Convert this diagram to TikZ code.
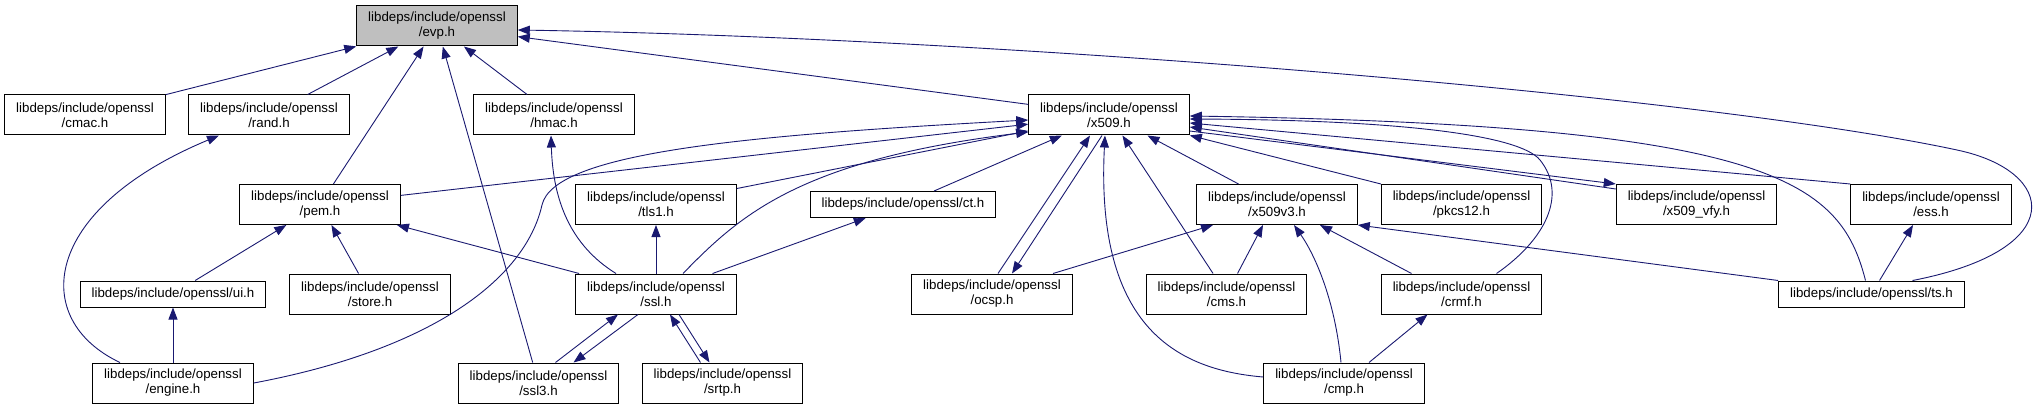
\documentclass[tikz,border=0pt]{standalone}
\usepackage{fontspec}
\setmainfont{Liberation Sans}
\usetikzlibrary{arrows.meta}
\definecolor{edgeblue}{HTML}{191970}
\definecolor{rootgray}{HTML}{BFBFBF}
\begin{document}
\begin{tikzpicture}[x=1pt, y=-1pt, font=\fontsize{13.3}{15}\selectfont,
    hdr/.style={rectangle, draw=black, line width=1pt, fill=white, align=center, inner xsep=11.5pt, minimum width=160pt, minimum height=40pt},
    hdrone/.style={hdr, minimum width=0pt, minimum height=26pt},
    root/.style={hdr, fill=rootgray},
    dep/.style={draw=edgeblue, line width=0.9pt, -{Triangle[length=12pt, width=9pt]}}]
  \useasboundingbox (0,0) rectangle (2038,409);
  % include graph of evp.h, one row per rank
  \node[root] (evp) at (437,26) {libdeps/include/openssl\\/evp.h};

  \node[hdr] (cmac) at (85,115)   {libdeps/include/openssl\\/cmac.h};
  \node[hdr] (rand) at (269,115)  {libdeps/include/openssl\\/rand.h};
  \node[hdr] (hmac) at (554,115)  {libdeps/include/openssl\\/hmac.h};
  \node[hdr] (x509) at (1109,115) {libdeps/include/openssl\\/x509.h};

  \node[hdr] (pem) at (320,204.5)       {libdeps/include/openssl\\/pem.h};
  \node[hdr] (tls1) at (656,204.5)      {libdeps/include/openssl\\/tls1.h};
  \node[hdrone] (ct) at (903,204.5)     {libdeps/include/openssl/ct.h};
  \node[hdr] (x509v3) at (1277,204.5)   {libdeps/include/openssl\\/x509v3.h};
  \node[hdr] (pkcs12) at (1461.5,204.5) {libdeps/include/openssl\\/pkcs12.h};
  \node[hdr] (x509vfy) at (1696.5,204.5){libdeps/include/openssl\\/x509\_vfy.h};
  \node[hdr] (ess) at (1931,204.5)      {libdeps/include/openssl\\/ess.h};

  \node[hdrone] (ui) at (173,294)   {libdeps/include/openssl/ui.h};
  \node[hdr] (store) at (370,294)   {libdeps/include/openssl\\/store.h};
  \node[hdr] (ssl) at (656,294)     {libdeps/include/openssl\\/ssl.h};
  \node[hdr] (ocsp) at (992,294)    {libdeps/include/openssl\\/ocsp.h};
  \node[hdr] (cms) at (1226.5,294)  {libdeps/include/openssl\\/cms.h};
  \node[hdr] (crmf) at (1461.5,294) {libdeps/include/openssl\\/crmf.h};
  \node[hdrone] (ts) at (1871.5,294){libdeps/include/openssl/ts.h};

  \node[hdr] (engine) at (173,383) {libdeps/include/openssl\\/engine.h};
  \node[hdr] (ssl3) at (538.5,383) {libdeps/include/openssl\\/ssl3.h};
  \node[hdr] (srtp) at (722.5,383) {libdeps/include/openssl\\/srtp.h};
  \node[hdr] (cmp) at (1344,383)   {libdeps/include/openssl\\/cmp.h};

  \draw[dep] (cmac)--(evp); \draw[dep] (rand)--(evp); \draw[dep] (pem)--(evp);
  \draw[dep] (hmac)--(evp); \draw[dep] (ssl3)--(evp); \draw[dep] (x509)--(evp);
  \draw[dep] ([xshift=41pt]ts.north) .. controls (2070,250) and (2057,171) .. (1957,150)
    .. controls (1700,95) and (1000,38) .. ([yshift=-4pt]evp.east);

  \draw[dep] (pem)--(x509); \draw[dep] (tls1)--(x509);
  \draw[dep] (engine.east) .. controls (430,350) and (525,280) .. (542,205)
    .. controls (554,152) and (750,135) .. ([yshift=-5pt]x509.west);
  \draw[dep] ([xshift=27pt]ssl.north) .. controls (740,215) and (800,160) .. ([yshift=-17pt]x509.west);
  \draw[dep] (ct)--(x509); \draw[dep] (cms)--(x509); \draw[dep] (x509v3)--(x509);
  \draw[dep] (pkcs12)--(x509);
  \draw[dep] ([xshift=6pt]ocsp.north)--([xshift=-19pt]x509.south);
  \draw[dep] ([xshift=-7pt]x509.south)--([xshift=20pt]ocsp.north);
  \draw[dep] ([yshift=6pt]cmp.west) .. controls (1180,370) and (1095,330) .. ([xshift=-4pt]x509.south);
  \draw[dep] ([xshift=-6pt]ts.north) .. controls (1840,180) and (1770,125) .. ([yshift=-1pt]x509.east);
  \draw[dep] ([xshift=35pt]crmf.north) .. controls (1545,240) and (1568,195) .. (1540,160)
    .. controls (1520,135) and (1400,120) .. ([yshift=-4pt]x509.east);
  \draw[dep] (ess.north west)--([yshift=-8pt]x509.east);
  \draw[dep] ([yshift=-5pt]x509vfy.north west)--([yshift=-12pt]x509.east);
  \draw[dep] ([yshift=-16pt]x509.east)--(x509vfy.north west);

  \draw[dep] ([xshift=61pt]ocsp.north)--([xshift=-64pt]x509v3.south);
  \draw[dep] ([xshift=11pt]cms.north)--([xshift=-14pt]x509v3.south);
  \draw[dep] ([xshift=-3pt]cmp.north) .. controls (1335,300) and (1315,255) .. ([xshift=17pt]x509v3.south);
  \draw[dep] ([xshift=-50pt]crmf.north)--([xshift=43pt]x509v3.south);
  \draw[dep] (ts.north west)--(x509v3.south east);
  \draw[dep] ([xshift=8pt]ts.north)--([xshift=-18pt]ess.south);
  \draw[dep] ([xshift=25pt]cmp.north)--([xshift=-34pt]crmf.south);

  \draw[dep] (ui)--(pem); \draw[dep] (store)--(pem); \draw[dep] (ssl)--(pem);
  \draw[dep] (engine)--(ui);
  \draw[dep] ([xshift=-53pt]engine.north) .. controls (30,320) and (40,210) .. ([xshift=-50pt]rand.south);
  \draw[dep] ([xshift=-40pt]ssl.north) .. controls (570,245) and (553,200) .. ([xshift=-3pt]hmac.south);
  \draw[dep] (ssl)--(tls1); \draw[dep] (ssl)--(ct);
  \draw[dep] ([xshift=17pt]ssl3.north)--([xshift=-38pt]ssl.south);
  \draw[dep] ([xshift=-18pt]ssl.south)--([xshift=35pt]ssl3.north);
  \draw[dep] ([xshift=-22pt]srtp.north)--([xshift=14pt]ssl.south);
  \draw[dep] ([xshift=23pt]ssl.south)--([xshift=-13pt]srtp.north);
\end{tikzpicture}
\end{document}
